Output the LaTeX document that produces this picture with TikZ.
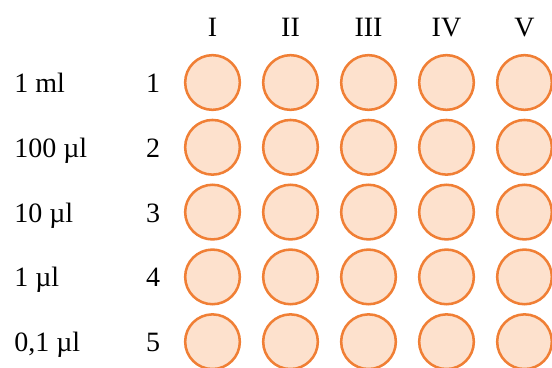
\documentclass[tikz,border=0pt]{standalone}
\usepackage{fontspec}
\setmainfont{Liberation Serif}
\definecolor{wellfill}{HTML}{FDE1CD}
\definecolor{welldraw}{HTML}{F07F35}
\begin{document}
\begin{tikzpicture}[x=0.75pt, y=-0.75pt,
	well/.style = {circle, draw = welldraw, fill = wellfill, line width = 1.9pt, minimum size = 41pt, inner sep = 0pt},
	lbl/.style = {anchor = base, inner sep = 0pt, font = \fontsize{21}{25}\selectfont}]
		\useasboundingbox (0,0) rectangle (552,367);
		% column heads
		\foreach \c [count = \i] in {I,II,III,IV,V}
			\node [lbl] (col\i) at ({212.5+78*(\i-1)},37) {\c};
		% rows: amount, number, wells
		\foreach \v [count = \j] in {1 ml,100 µl,10 µl,1 µl,{0,1 µl}} {
			\node [lbl, anchor = base west] (vol\j) at (14,{92.5+64.8*(\j-1)}) {\v};
			\node [lbl] (row\j) at (153,{92.5+64.8*(\j-1)}) {\j};
			\foreach \i in {1,...,5}
				\node [well] (w\j\i) at ({212.5+78*(\i-1)},{82.5+64.8*(\j-1)}) {};
		}
	\end{tikzpicture}
\end{document}
